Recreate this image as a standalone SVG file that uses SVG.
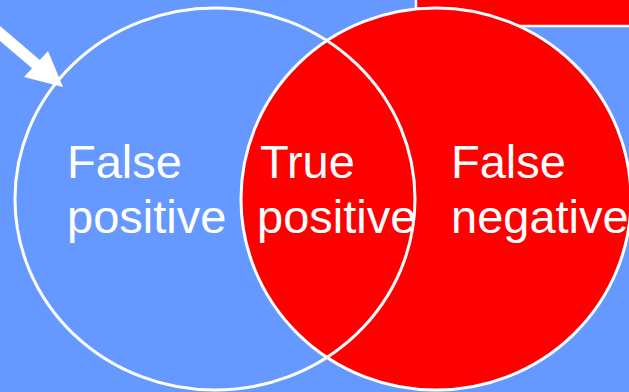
<svg xmlns="http://www.w3.org/2000/svg" width="629" height="392" viewBox="0 0 629 392">
  <style>
    .lbl { font-family: "Liberation Sans", Arial, sans-serif; font-size: 47px; fill: #ffffff; }
    .ring { fill: none; stroke: #ffffff; stroke-width: 3; }
  </style>
  <rect x="0" y="0" width="629" height="392" fill="#6699ff"/>
  <g id="box">
    <rect x="416" y="-4" width="222" height="30" fill="#ff0000" stroke="#ffffff" stroke-width="2.5"/>
  </g>
  <g id="test-set">
    <ellipse cx="436" cy="199" rx="195" ry="191" fill="#ff0000" stroke="#ffffff" stroke-width="3"/>
  </g>
  <g id="retrieved-set">
    <ellipse class="ring" cx="215" cy="199" rx="200" ry="191"/>
  </g>
  <g id="connectors">
    <polygon points="-5,21.7 39.8,59.9 48,51 63,87 24,77 32.1,68.3 -5,36.7" fill="#ffffff"/>
  </g>
  <g id="false-positive">
    <text class="lbl" x="67" y="178">False</text>
    <text class="lbl" x="67" y="233">positive</text>
  </g>
  <g id="true-positive">
    <text class="lbl" x="260" y="178">True</text>
    <text class="lbl" x="257" y="233">positive</text>
  </g>
  <g id="false-negative">
    <text class="lbl" x="451" y="178">False</text>
    <text class="lbl" x="451" y="233">negative</text>
  </g>
</svg>
